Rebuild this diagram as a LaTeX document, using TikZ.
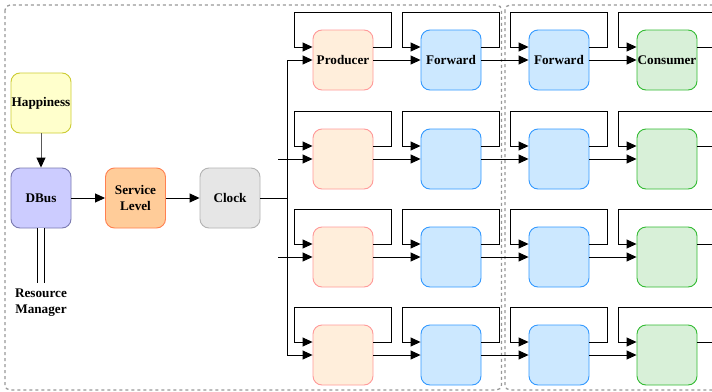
\documentclass[tikz,border=0pt]{standalone}
\usepackage{fontspec}
\setmainfont{Liberation Serif}
\usetikzlibrary{arrows.meta,calc}
\definecolor{hapF}{HTML}{FFFFCC}\definecolor{hapD}{HTML}{CCCC33}
\definecolor{dbF}{HTML}{CCCCFF}\definecolor{dbD}{HTML}{7A7AB0}
\definecolor{slF}{HTML}{FFCC99}\definecolor{slD}{HTML}{FF8050}
\definecolor{clF}{HTML}{E6E6E6}\definecolor{clD}{HTML}{B3B3B3}
\definecolor{prF}{HTML}{FFEEDB}\definecolor{prD}{HTML}{FF9999}
\definecolor{fwF}{HTML}{CCE8FF}\definecolor{fwD}{HTML}{3399FF}
\definecolor{coF}{HTML}{D8F0D8}\definecolor{coD}{HTML}{33BB33}
\definecolor{frameC}{HTML}{999999}
\tikzset{
  lbl/.style={font=\fontsize{13.2}{15.7}\selectfont\bfseries},
  blk/.style={rounded corners=9pt, minimum width=60pt, minimum height=60pt, inner sep=0pt, line width=0.9pt, align=center, lbl},
  arr/.style={line width=0.9pt, -{Triangle[length=10pt,width=9pt]}},
  ln/.style={line width=0.9pt},
  frame/.style={draw=frameC, dashed, dash pattern=on 3pt off 3pt, line width=1.3pt, rounded corners=5pt},
}
\begin{document}
\begin{tikzpicture}[x=1pt,y=-1pt]
\useasboundingbox (0,0) rectangle (712,391);
\fill[white] (0,0) rectangle (712,391);
% frames
\draw[frame] (5,5) rectangle (501.5,390);
\draw[frame] (505,5) rectangle (725,390);
% left chain
\node[blk, fill=hapF, draw=hapD] (hap) at (41,103) {Happiness};
\node[blk, fill=dbF, draw=dbD] (dbus) at (41,198) {DBus};
\node[blk, fill=slF, draw=slD] (sl) at (135.5,198) {Service\\Level};
\node[blk, fill=clF, draw=clD] (clk) at (230,198) {Clock};
\node[lbl, align=center, inner sep=0pt, anchor=north] (rm) at (41,289) {Resource\\Manager};
\draw[line width=0.9pt, draw=black!65, -{Triangle[length=10pt,width=9pt,black]}] (hap) -- (dbus);
\draw[arr] (dbus) -- (sl);
\draw[arr] (sl) -- (clk);
\draw[line width=1.2pt, double, double distance=5.2pt] (dbus.south) -- (dbus.south |- 0,283);
% grid
\foreach \r/\y in {1/60,2/159,3/257,4/355}{
  \node[blk, fill=prF, draw=prD] (p\r) at (343,\y) {};
  \node[blk, fill=fwF, draw=fwD] (f\r) at (451,\y) {};
  \node[blk, fill=fwF, draw=fwD] (g\r) at (559,\y) {};
  \node[blk, fill=coF, draw=coD] (c\r) at (667,\y) {};
  \draw[arr] (p\r) -- (f\r);
  \draw[arr] (f\r) -- (g\r);
  \draw[arr] (g\r) -- (c\r);
  \foreach \b in {p,f,g,c}{
    \draw[arr] ([yshift=13pt]\b\r.east) -- ++(18,0) -- ++(0,-35) -| ([xshift=-18.5pt,yshift=13pt]\b\r.west) -- ([yshift=13pt]\b\r.west);
  }
}
\node[lbl] at (p1) {Producer};
\node[lbl] at (f1) {Forward};
\node[lbl] at (g1) {Forward};
\node[lbl] at (c1) {Consumer};
% distribution
\coordinate (bus) at (287,198);
\draw[ln] (clk.east) -- (bus);
\draw[arr] (bus) |- (p1.west);
\draw[arr] (bus) |- (p4.west);
\coordinate (s2) at (278,159);
\coordinate (s3) at (278,257);
\draw[arr] (s2) -- (p2.west);
\draw[arr] (s3) -- (p3.west);
\end{tikzpicture}
\end{document}
